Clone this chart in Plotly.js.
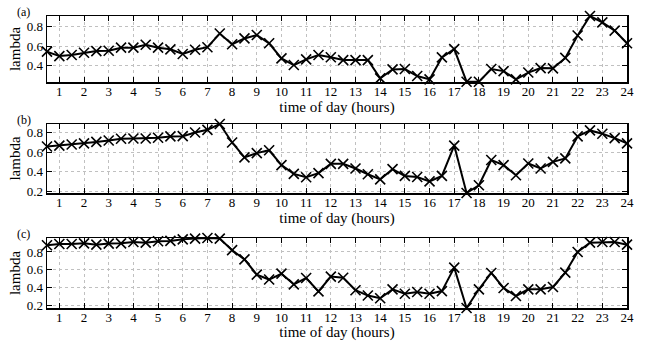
<!DOCTYPE html>
<html>
<head>
<meta charset="utf-8">
<script src="https://cdn.plot.ly/plotly-3.0.1.min.js"></script>
<style>html,body{margin:0;padding:0;background:#fff;}#plot{width:651px;height:341px;}</style>
</head>
<body>
<div id="plot"></div>
<script>
// time of day (hours), half-hour steps
const hours = [0.5,1,1.5,2,2.5,3,3.5,4,4.5,5,5.5,6,6.5,7,7.5,8,8.5,9,9.5,10,10.5,11,11.5,12,
  12.5,13,13.5,14,14.5,15,15.5,16,16.5,17,17.5,18,18.5,19,19.5,20,20.5,21,21.5,22,22.5,23,23.5,24];
const lambdaA = [0.544,0.499,0.51,0.533,0.55,0.554,0.585,0.585,0.615,0.585,0.568,0.52,0.564,0.59,0.73,0.62,0.68,0.715,0.63,0.475,0.407,0.465,0.51,0.487,
  0.458,0.458,0.458,0.27,0.362,0.366,0.294,0.26,0.485,0.57,0.236,0.236,0.366,0.345,0.26,0.33,0.376,0.373,0.48,0.71,0.91,0.845,0.76,0.63];
const lambdaB = [0.658,0.668,0.679,0.69,0.706,0.72,0.738,0.741,0.741,0.748,0.762,0.765,0.803,0.83,0.89,0.70,0.547,0.59,0.62,0.467,0.377,0.342,0.384,0.48,
  0.48,0.432,0.373,0.32,0.425,0.356,0.345,0.30,0.356,0.668,0.18,0.26,0.52,0.467,0.363,0.484,0.432,0.50,0.536,0.762,0.824,0.79,0.745,0.69];
const lambdaC = [0.875,0.89,0.89,0.897,0.882,0.894,0.897,0.912,0.905,0.92,0.924,0.942,0.95,0.957,0.95,0.82,0.717,0.545,0.49,0.556,0.436,0.507,0.357,0.523,
  0.51,0.37,0.31,0.28,0.38,0.33,0.35,0.33,0.36,0.624,0.17,0.38,0.564,0.395,0.305,0.38,0.38,0.406,0.567,0.80,0.905,0.912,0.912,0.882];
const xTicks = [1,2,3,4,5,6,7,8,9,10,11,12,13,14,15,16,17,18,19,20,21,22,23,24];
const panelLabels = ['(a)','(b)','(c)'];
const xTitle = 'time of day (hours)';
const yTitle = 'lambda';
const yRanges = [[0.233,0.91],[0.18,0.89],[0.17,0.957]];

const FONT = '"Liberation Serif", "Times New Roman", serif';
const series = [lambdaA, lambdaB, lambdaC];
const traces = series.map((ys, i) => ({
  x: hours, y: ys, type: 'scatter', mode: 'lines+markers',
  xaxis: i === 0 ? 'x' : 'x' + (i + 1), yaxis: i === 0 ? 'y' : 'y' + (i + 1),
  line: {color: '#000', width: 2},
  marker: {symbol: 'x-thin-open', size: 10, color: '#000', line: {color: '#000', width: 1.6}},
  cliponaxis: false, showlegend: false
}));

const H = 292; // plot area height in px
const domains = [[1 - 66/H, 1], [1 - 177/H, 1 - 108/H], [0, 1 - 222/H]];
const layout = {
  width: 651, height: 341,
  margin: {l: 47, r: 24, t: 16, b: 33},
  paper_bgcolor: '#fff', plot_bgcolor: '#fff',
  font: {family: FONT, size: 13, color: '#000'},
  annotations: []
};
for (let i = 0; i < 3; i++) {
  const xs = i === 0 ? '' : String(i + 1);
  layout['xaxis' + xs] = {
    anchor: 'y' + xs, domain: [0, 1], range: [0.5, 24],
    tickvals: xTicks, ticktext: xTicks.map(String),
    ticks: 'inside', ticklen: 5, tickwidth: 1, tickcolor: '#000',
    ticklabelstandoff: -3,
    showline: true, linecolor: '#000', linewidth: 1.5, mirror: 'ticks',
    showgrid: true, gridcolor: '#c0c0c0', griddash: 'dot', gridwidth: 1,
    zeroline: false, tickfont: {family: FONT, size: 13, color: '#000'},
    title: {text: xTitle, font: {family: FONT, size: 15, color: '#000'}, standoff: 3}
  };
  layout['yaxis' + xs] = {
    anchor: 'x' + xs, domain: domains[i], range: yRanges[i],
    tick0: 0, dtick: 0.2, tickformat: '.1f',
    ticks: 'inside', ticklen: 5, tickwidth: 1, tickcolor: '#000',
    showline: true, linecolor: '#000', linewidth: 1.5, mirror: 'ticks',
    showgrid: true, gridcolor: '#c0c0c0', griddash: 'dot', gridwidth: 1,
    zeroline: false, tickfont: {family: FONT, size: 13, color: '#000'},
    title: {text: yTitle, font: {family: FONT, size: 15, color: '#000'}, standoff: 2}
  };
  layout.annotations.push({
    text: panelLabels[i], xref: 'paper', yref: 'paper', x: -0.0405, y: domains[i][1],
    xanchor: 'center', yanchor: 'middle', showarrow: false, yshift: 4,
    font: {family: FONT, size: 12, color: '#000'}
  });
}
Plotly.newPlot('plot', traces, layout, {displayModeBar: false, staticPlot: true});
</script>
</body>
</html>
